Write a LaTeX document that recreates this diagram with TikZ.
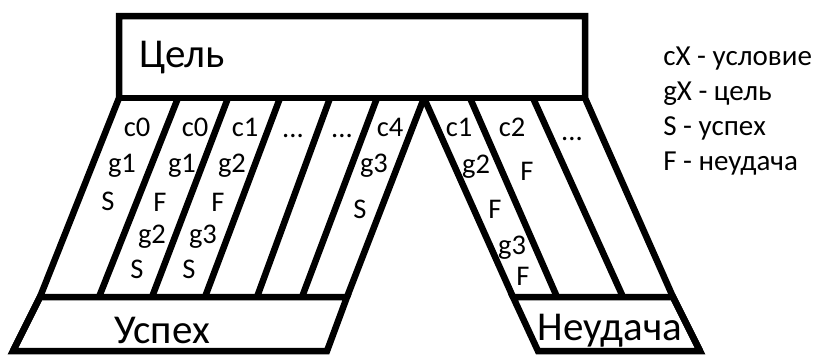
\documentclass[tikz,border=0pt]{standalone}
\usepackage{fontspec}
\setmainfont{Carlito}
\begin{document}
\begin{tikzpicture}[x=1pt,y=-1pt, line width=6.5pt, line join=miter,
  lbl/.style={anchor=base, inner sep=0pt, font=\fontsize{28.5}{34}\selectfont},
  big/.style={anchor=base, inner sep=0pt, font=\fontsize{41}{49}\selectfont},
  leg/.style={anchor=base west, inner sep=0pt, font=\fontsize{29}{35}\selectfont}]
\useasboundingbox (0,0) rectangle (821,356);
% top box
\coordinate (tl) at (119,16);
\coordinate (tr) at (585,16);
\coordinate (bl) at (119,98);
\coordinate (br) at (585,98);
% left strips: tops and bottoms
\coordinate (t2) at (178,98);  \coordinate (b2) at (99,297);
\coordinate (t3) at (228,98);  \coordinate (b3) at (152,297);
\coordinate (t4) at (280,98);  \coordinate (b4) at (205,297);
\coordinate (t5) at (330,98);  \coordinate (b5) at (257,297);
\coordinate (t6) at (377,98);  \coordinate (b6) at (302,297);
\coordinate (t7) at (424,98);  \coordinate (b7) at (347,297);
\coordinate (b1) at (40,297);
\coordinate (lbl) at (13,351);
\coordinate (lbr) at (327,351);
% right strips
\coordinate (r2) at (470,98);  \coordinate (rb2) at (557,297);
\coordinate (r3) at (533,98);  \coordinate (rb3) at (623,297);
\coordinate (rb1) at (513,297);
\coordinate (rb4) at (673,297);
\coordinate (rbl) at (538,351);
\coordinate (rbr) at (700,351);
% outline
\draw (lbl) -- (b1) -- (bl) -- (tl) -- (tr) -- (br) -- (rb4) -- (rbr);
\draw (bl) -- (br);
\draw (b1) -- (b7) -- (lbr) -- (lbl) -- cycle;
\draw (rb1) -- (rb4) -- (rbr) -- (rbl) -- cycle;
\draw (t2) -- (b2);
\draw (t3) -- (b3);
\draw (t4) -- (b4);
\draw (t5) -- (b5);
\draw (t6) -- (b6);
\draw (t7) -- (b7);
\draw (t7) -- (rb1);
\draw (r2) -- (rb2);
\draw (r3) -- (rb3);
% big labels
\node[big, anchor=base west] (goal) at (136,67) {Цель};
\node[big] (succ) at (162,343) {Успех};
\node[big] (fail) at (610,340) {Неудача};
% strip 1
\node[lbl] (a1) at (137,136) {c0};
\node[lbl] (a2) at (122,172) {g1};
\node[lbl] (a3) at (108,210) {S};
% strip 2
\node[lbl] (b1t) at (195,136) {c0};
\node[lbl] (b2t) at (182,172) {g1};
\node[lbl] (b3t) at (160,211) {F};
\node[lbl] (b4t) at (152,243) {g2};
\node[lbl] (b5t) at (137,278) {S};
% strip 3
\node[lbl] (c1t) at (245,136) {c1};
\node[lbl] (c2t) at (232,172) {g2};
\node[lbl] (c3t) at (218,211) {F};
\node[lbl] (c4t) at (203,243) {g3};
\node[lbl] (c5t) at (189,278) {S};
% strips 4,5
\node[lbl] (d1t) at (293,137) {...};
\node[lbl] (e1t) at (342,137) {...};
% strip 6
\node[lbl] (f1t) at (390,136) {c4};
\node[lbl] (f2t) at (374,172) {g3};
\node[lbl] (f3t) at (360,218) {S};
% right strip 1
\node[lbl] (g1t) at (459,136) {c1};
\node[lbl] (g2t) at (476,173) {g2};
\node[lbl] (g3t) at (495,218) {F};
\node[lbl] (g4t) at (512,254) {g3};
\node[lbl] (g5t) at (523,285) {F};
% right strip 2
\node[lbl] (h1t) at (512,136) {c2};
\node[lbl] (h2t) at (527,180) {F};
% right strip 3
\node[lbl] (i1t) at (572,140) {...};
% legend
\node[leg] (l1) at (660,65) {cX - условие};
\node[leg] (l2) at (660,100) {gX - цель};
\node[leg] (l3) at (660,135) {S - успех};
\node[leg] (l4) at (660,170) {F - неудача};
\end{tikzpicture}
\end{document}
